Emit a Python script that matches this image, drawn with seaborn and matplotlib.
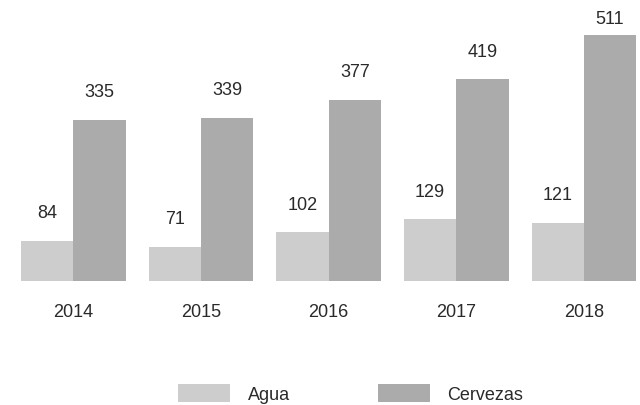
import matplotlib
matplotlib.use('Agg')
import matplotlib.pyplot as plt
import seaborn as sns
import pandas as pd

years = ['2014', '2015', '2016', '2017', '2018']
agua = [84, 71, 102, 129, 121]
cervezas = [335, 339, 377, 419, 511]
series = ['Agua', 'Cervezas']
colors = ['#cdcdcd', '#ababab']

data = pd.DataFrame({
    'year': years * 2,
    'value': agua + cervezas,
    'serie': ['Agua'] * len(years) + ['Cervezas'] * len(years),
})

sns.set_theme(style='white')
plt.rcParams['font.family'] = ['Liberation Sans', 'DejaVu Sans']

fig = plt.figure(figsize=(6.4, 4.06), dpi=100)
ax = fig.add_axes([0, 124 / 406, 1, 282 / 406])
sns.barplot(data=data, x='year', y='value', hue='serie', palette=colors,
            width=0.82, saturation=1, linewidth=0, ax=ax, legend=True)

ax.set_xlim(-0.576, 4.44)
ax.set_ylim(0, 586)

# value labels above each bar
for container in ax.containers:
    for bar in container:
        v = bar.get_height()
        x = bar.get_x() + bar.get_width() / 2
        ax.text(x, min(v + 58, 545), f'{v:.0f}', ha='center', va='center',
                fontsize=13, color='#2a2a2a')

ax.set_xlabel('')
ax.set_ylabel('')
ax.set_yticks([])
ax.tick_params(axis='x', length=0, pad=16, labelsize=13, labelcolor='#2a2a2a')
sns.despine(ax=ax, left=True, bottom=True, top=True, right=True)

handles, labels = ax.get_legend_handles_labels()
ax.get_legend().remove()
fig.legend(handles, labels, loc='center left', bbox_to_anchor=(178 / 640, 11.5 / 406),
           ncol=2, frameon=False, fontsize=13, handlelength=2.9, handleheight=1.17,
           handletextpad=0.95, columnspacing=4.9, borderpad=0, borderaxespad=0,
           labelcolor='#2a2a2a')

fig.savefig('out.png', dpi=100)
